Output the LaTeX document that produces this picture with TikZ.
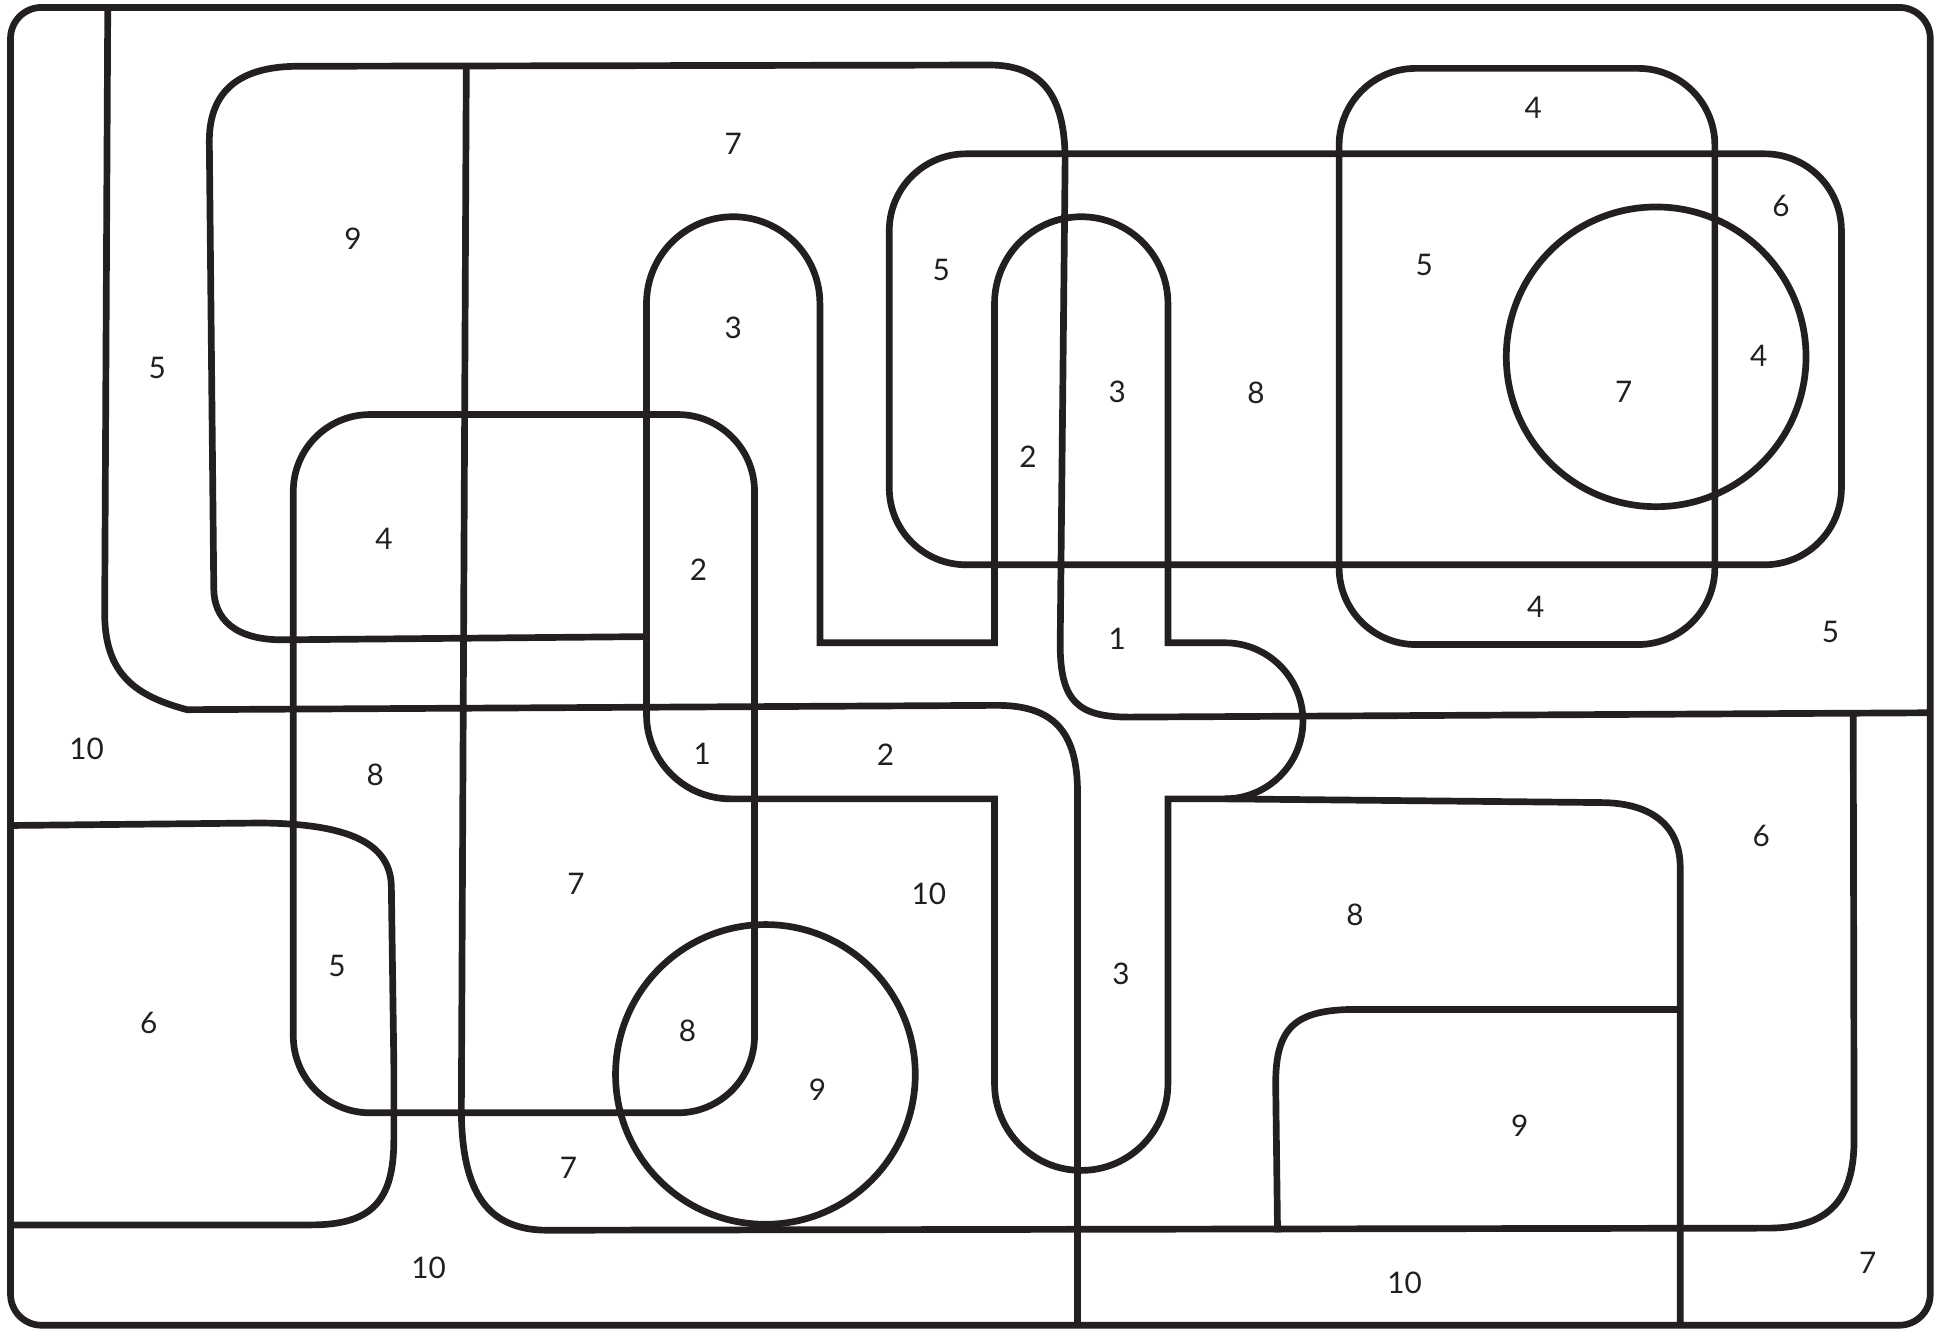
\documentclass[tikz,border=0pt]{standalone}
\usepackage{fontspec}
\setmainfont{Lato}
\definecolor{ink}{HTML}{231F20}
\begin{document}
\begin{tikzpicture}[x=1pt,y=-1pt,
  outline/.style={draw=ink, line width=5.4pt},
  num/.style={font=\fontsize{24}{24}\selectfont, text=ink, inner sep=0pt}]
\useasboundingbox (0,0) rectangle (1568,1073);
\fill[white] (0,0) rectangle (1568,1073);
% frame
\draw[outline, rounded corners=25pt] (8.5,6) rectangle (1558.5,1070);
% path A
\draw[outline] (87,6) -- (84.5,495) .. controls (84.5,545) and (110,562) .. (151,573)
  -- (805,569.5) .. controls (850,569.5) and (870,590) .. (870,640) -- (870,1070);
% path B
\draw[outline] (522,514) -- (228,516.6) .. controls (190,516.6) and (172.6,500) .. (172.6,475)
  -- (169,114) .. controls (169,72) and (195,53.5) .. (241,53.5)
  -- (799,52.5) .. controls (842,52.5) and (860,78) .. (860,130)
  -- (856,520) .. controls (856,566) and (870,579) .. (912,579) -- (1558,575.5);
% path C
\draw[outline] (376.5,53) -- (372.5,895) .. controls (372.5,965) and (395,993) .. (441.7,993.3)
  -- (1428.9,991.6) .. controls (1480,991) and (1497,965) .. (1497,920) -- (1496.3,577);
% rect D
\draw[outline, rounded corners=62pt] (236.8,334.7) rectangle (609.2,898.5);
% pipe E
\draw[outline] (522,245) arc[start angle=180,end angle=360,radius=70]
  -- (662,519) -- (803,519) -- (803,245) arc[start angle=180,end angle=360,radius=70]
  -- (943,519) -- (989,519) arc[start angle=270,end angle=450,radius=63]
  -- (943,645) -- (943,875) arc[start angle=0,end angle=180,radius=70]
  -- (803,645) -- (590,645) arc[start angle=90,end angle=180,radius=68]
  -- cycle;
% rect F
\draw[outline, rounded corners=62pt] (718,124.2) rectangle (1486.8,456);
% rect G
\draw[outline, rounded corners=62pt] (1081.2,55.2) rectangle (1384.6,520.4);
% circle H
\draw[outline] (1337.2,288.1) circle[radius=121];
% path I
\draw[outline] (8.5,666.5) -- (210,664.5) .. controls (290,665) and (316,685) .. (316,717)
  -- (318,860) -- (318,920) .. controls (318,970) and (300,989) .. (251,989) -- (8.5,989);
% circle J
\draw[outline] (618,867.5) circle[radius=121];
% path K
\draw[outline] (989,645) -- (1292,648) .. controls (1335,648) and (1356.6,668) .. (1356.6,700) -- (1356.6,1070);
% path L
\draw[outline] (1356.6,815) -- (1095,815) .. controls (1045,815) and (1030,830) .. (1030,875) -- (1031.5,995);
% labels
\node[num] (l1) at (127,297) {5};
\node[num] (l2) at (285,193) {9};
\node[num] (l3) at (592,116) {7};
\node[num] (l4) at (592,265) {3};
\node[num] (l5) at (760,218) {5};
\node[num] (l6) at (902,316) {3};
\node[num] (l7) at (1014,317) {8};
\node[num] (l8) at (830,369) {2};
\node[num] (l9) at (1238,87) {4};
\node[num] (l10) at (1438,166) {6};
\node[num] (l11) at (1150,214) {5};
\node[num] (l12) at (1311,316) {7};
\node[num] (l13) at (1420,287) {4};
\node[num] (l14) at (1240,490) {4};
\node[num] (l15) at (1478,510) {5};
\node[num] (l16) at (310,435) {4};
\node[num] (l17) at (564,460) {2};
\node[num] (l18) at (902,516) {1};
\node[num] (l19) at (70,605) {10};
\node[num] (l20) at (303,626) {8};
\node[num] (l21) at (567,609) {1};
\node[num] (l22) at (715,609) {2};
\node[num] (l23) at (465,714) {7};
\node[num] (l24) at (750,722) {10};
\node[num] (l25) at (1094,739) {8};
\node[num] (l26) at (1422,675) {6};
\node[num] (l27) at (272,780) {5};
\node[num] (l28) at (120,826) {6};
\node[num] (l29) at (555,832) {8};
\node[num] (l30) at (660,880) {9};
\node[num] (l31) at (905,786) {3};
\node[num] (l32) at (1227,909) {9};
\node[num] (l33) at (459,943) {7};
\node[num] (l34) at (346,1024) {10};
\node[num] (l35) at (1134,1036) {10};
\node[num] (l36) at (1508,1020) {7};
\end{tikzpicture}
\end{document}
